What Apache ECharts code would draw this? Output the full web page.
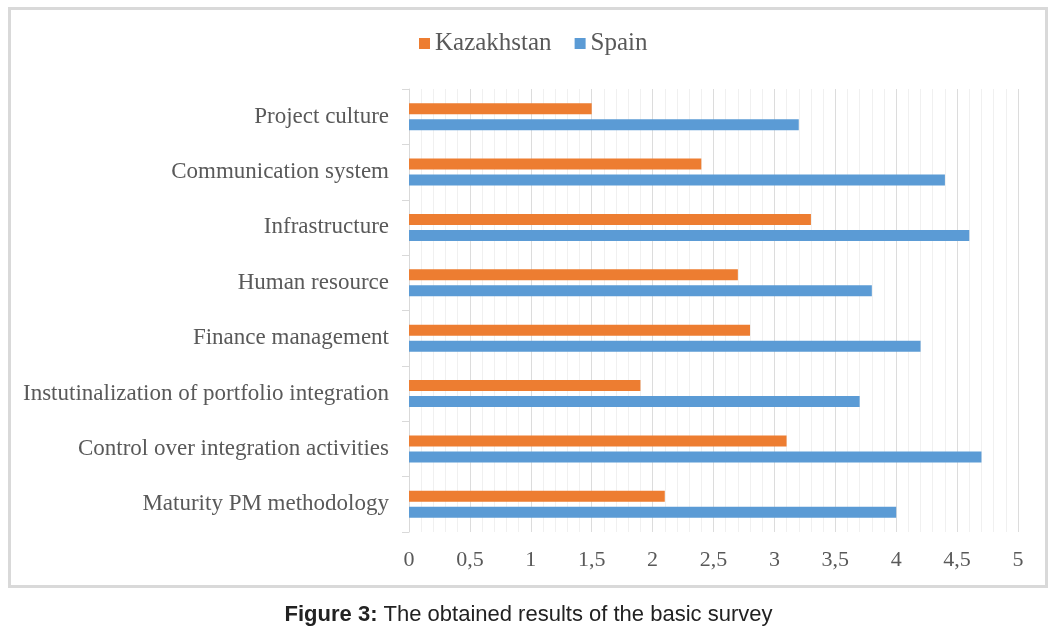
<!DOCTYPE html>
<html>
<head>
<meta charset="utf-8">
<script src="https://cdn.jsdelivr.net/npm/echarts@6/dist/echarts.min.js"></script>
<style>
html,body{margin:0;padding:0;background:#fff;}
#chart{width:1057px;height:632px;}
</style>
</head>
<body>
<div id="chart"></div>
<script>
const categories = [
  "Maturity PM methodology",
  "Control over integration activities",
  "Instutinalization of portfolio integration",
  "Finance management",
  "Human resource",
  "Infrastructure",
  "Communication system",
  "Project culture"
];
const kazakhstan = [2.1, 3.1, 1.9, 2.8, 2.7, 3.3, 2.4, 1.5];
const spain = [4.0, 4.7, 3.7, 4.2, 3.8, 4.6, 4.4, 3.2];
const seriesNames = ["Kazakhstan", "Spain"];
const captionBold = "Figure 3:";
const captionText = " The obtained results of the basic survey";

const serif = "'Liberation Serif','Times New Roman',serif";
const sans = "'Liberation Sans',Arial,sans-serif";
const chart = echarts.init(document.getElementById('chart'));
chart.setOption({
  animation: false,
  backgroundColor: '#fff',
  color: ['#ED7D31', '#5B9BD5'],
  title: {
    text: '{b|' + captionBold + '}{n|' + captionText + '}',
    left: 'center',
    top: 599,
    textStyle: {
      fontWeight: 'normal',
      rich: {
        b: {fontFamily: sans, fontWeight: 'bold', fontSize: 22, color: '#222'},
        n: {fontFamily: sans, fontWeight: 'normal', fontSize: 22, color: '#222'}
      }
    }
  },
  graphic: [{
    type: 'rect',
    shape: {x: 9.5, y: 8.5, width: 1037, height: 578},
    style: {fill: 'none', stroke: '#d9d9d9', lineWidth: 3},
    silent: true,
    z: -10
  }],
  legend: {
    data: seriesNames,
    left: 414,
    top: 26,
    icon: 'rect',
    itemWidth: 11,
    itemHeight: 11,
    itemGap: 23,
    textStyle: {fontFamily: serif, fontSize: 25, color: '#595959'}
  },
  grid: {left: 409, right: 39, top: 89, bottom: 100, containLabel: false},
  xAxis: {
    type: 'value',
    min: 0,
    max: 5,
    interval: 0.5,
    axisLine: {show: false},
    axisTick: {show: false},
    axisLabel: {
      fontFamily: serif, fontSize: 22, color: '#595959', margin: 17,
      formatter: v => String(Math.round(v * 10) / 10).replace('.', ',')
    },
    splitLine: {show: true, lineStyle: {color: '#dcdcdc', width: 1}},
    minorTick: {show: false, splitNumber: 5},
    minorSplitLine: {show: true, lineStyle: {color: '#f0f0f0', width: 1}}
  },
  yAxis: {
    type: 'category',
    data: categories,
    axisLine: {show: true, lineStyle: {color: '#d9d9d9', width: 1}},
    axisTick: {show: true, length: 7, lineStyle: {color: '#d9d9d9'}},
    axisLabel: {fontFamily: serif, fontSize: 23, color: '#595959', margin: 20}
  },
  series: [
    {name: seriesNames[0], type: 'bar', data: kazakhstan, barWidth: 11, barGap: '45%'},
    {name: seriesNames[1], type: 'bar', data: spain, barWidth: 11, barGap: '45%'}
  ]
});
</script>
</body>
</html>
